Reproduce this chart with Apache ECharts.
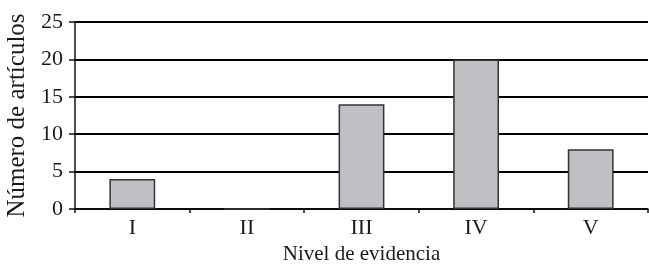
<!DOCTYPE html>
<html>
<head>
<meta charset="utf-8">
<script src="https://cdn.jsdelivr.net/npm/echarts@6/dist/echarts.min.js"></script>
<style>
html, body { margin: 0; padding: 0; background: #fff; }
#chart { width: 649px; height: 264px; }
</style>
</head>
<body>
<div id="chart"></div>
<script>
// datos
const categories = ['I', 'II', 'III', 'IV', 'V'];
const articleCounts = [4, 0, 14, 20, 8];
const yTicks = { min: 0, max: 25, interval: 5 };

const serif = '"Liberation Serif", "Times New Roman", serif';
const chart = echarts.init(document.getElementById('chart'));

chart.setOption({
    animation: false,
    grid: { left: 75, right: 1, top: 22, bottom: 55, outerBoundsMode: 'none', containLabel: false },
    xAxis: {
        type: 'category',
        data: categories,
        name: 'Nivel de evidencia',
        nameLocation: 'middle',
        nameGap: 34,
        nameTextStyle: { fontFamily: serif, fontSize: 21, color: '#1a1a1a' },
        axisLine: { lineStyle: { color: '#111', width: 1.5 } },
        axisTick: { show: true, length: 4, lineStyle: { color: '#111', width: 1.5 } },
        axisLabel: { fontFamily: serif, fontSize: 22, color: '#1a1a1a', margin: 8 },
    },
    yAxis: {
        type: 'value',
        min: yTicks.min,
        max: yTicks.max,
        interval: yTicks.interval,
        name: 'Número de artículos',
        nameLocation: 'middle',
        nameGap: 35,
        nameTextStyle: { fontFamily: serif, fontSize: 25, color: '#1a1a1a' },
        axisLine: { show: true, lineStyle: { color: '#111', width: 1.5 } },
        axisTick: { show: true, length: 6, lineStyle: { color: '#111', width: 1.5 } },
        axisLabel: { fontFamily: serif, fontSize: 22, color: '#1a1a1a', margin: 12 },
        splitLine: { lineStyle: { color: '#000', width: 1.8 } },
    },
    series: [
        {
            type: 'bar',
            data: articleCounts,
            barWidth: '40%',
            itemStyle: { color: '#c0c0c4', borderColor: '#333', borderWidth: 1.5 },
        },
    ],
});
</script>
</body>
</html>
